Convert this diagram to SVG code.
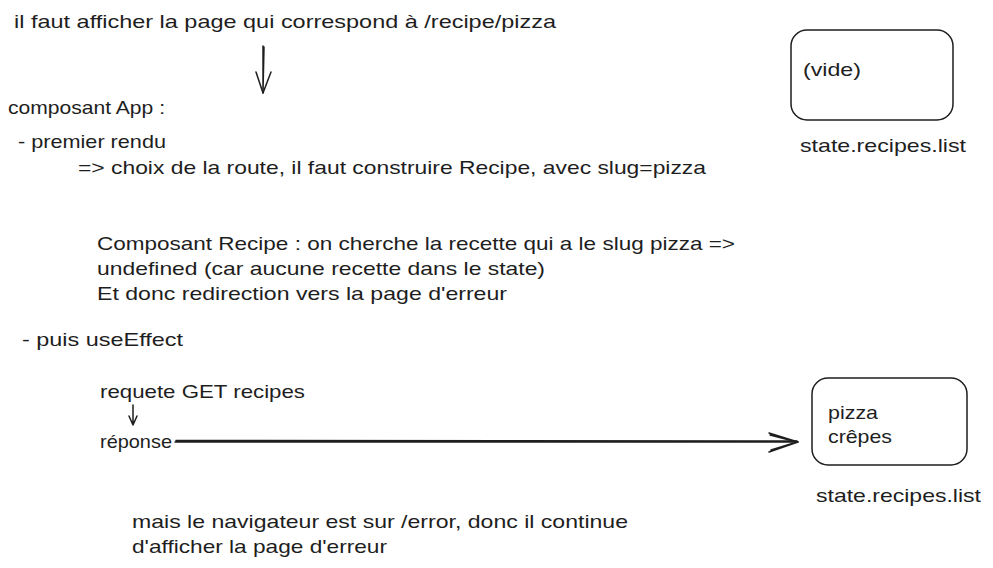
<svg xmlns="http://www.w3.org/2000/svg" width="993" height="568" viewBox="0 0 993 568">
<style>
text{font-family:"Liberation Sans","DejaVu Sans",sans-serif;font-size:19px;fill:#1e1e1e}
.box{fill:none;stroke:#1e1e1e;stroke-width:1.5}
.ln{fill:none;stroke:#1e1e1e;stroke-width:1.5;stroke-linecap:round;stroke-linejoin:round}
</style>
<rect width="993" height="568" fill="#ffffff"/>
<g id="texts">
<text x="14" y="28" textLength="542" lengthAdjust="spacingAndGlyphs">il faut afficher la page qui correspond à /recipe/pizza</text>
<text x="8" y="114" textLength="157" lengthAdjust="spacingAndGlyphs">composant App :</text>
<text x="18" y="148" textLength="148" lengthAdjust="spacingAndGlyphs">- premier rendu</text>
<text x="78" y="174" textLength="628" lengthAdjust="spacingAndGlyphs">=&gt; choix de la route, il faut construire Recipe, avec slug=pizza</text>
<text x="97" y="250" textLength="638" lengthAdjust="spacingAndGlyphs">Composant Recipe : on cherche la recette qui a le slug pizza =&gt;</text>
<text x="97" y="275" textLength="448" lengthAdjust="spacingAndGlyphs">undefined (car aucune recette dans le state)</text>
<text x="97" y="300" textLength="410" lengthAdjust="spacingAndGlyphs">Et donc redirection vers la page d'erreur</text>
<text x="22" y="346" textLength="161" lengthAdjust="spacingAndGlyphs">- puis useEffect</text>
<text x="100" y="398" textLength="205" lengthAdjust="spacingAndGlyphs">requete GET recipes</text>
<text x="100" y="448" textLength="72" lengthAdjust="spacingAndGlyphs">réponse</text>
<text x="132" y="528" textLength="496" lengthAdjust="spacingAndGlyphs">mais le navigateur est sur /error, donc il continue</text>
<text x="132" y="553" textLength="255" lengthAdjust="spacingAndGlyphs">d'afficher la page d'erreur</text>
</g>
<g id="state-empty">
<rect class="box" x="791" y="30" width="162" height="90" rx="16"/>
<text x="803" y="76" textLength="58" lengthAdjust="spacingAndGlyphs">(vide)</text>
<text x="800" y="152" textLength="166" lengthAdjust="spacingAndGlyphs">state.recipes.list</text>
</g>
<g id="state-filled">
<rect class="box" x="812" y="378" width="155" height="87" rx="16"/>
<text x="828" y="419" textLength="50" lengthAdjust="spacingAndGlyphs">pizza</text>
<text x="828" y="443" textLength="64" lengthAdjust="spacingAndGlyphs">crêpes</text>
<text x="816" y="502" textLength="165" lengthAdjust="spacingAndGlyphs">state.recipes.list</text>
</g>
<g id="connectors">
<path class="ln" d="M263 46 L263 93 M264 47 L263 92"/>
<path class="ln" d="M256 72 L263 93 L271 72"/>
<path class="ln" d="M133 405 L133 425 M129 416 L133 425 L137 416" stroke-width="1.2"/>
<path class="ln" d="M175 442 L798 442 M176 440.5 L797 441"/>
<path class="ln" d="M769 433 L798 442 L769 452 M770 435 L797 442 L771 450"/>
</g>
</svg>
